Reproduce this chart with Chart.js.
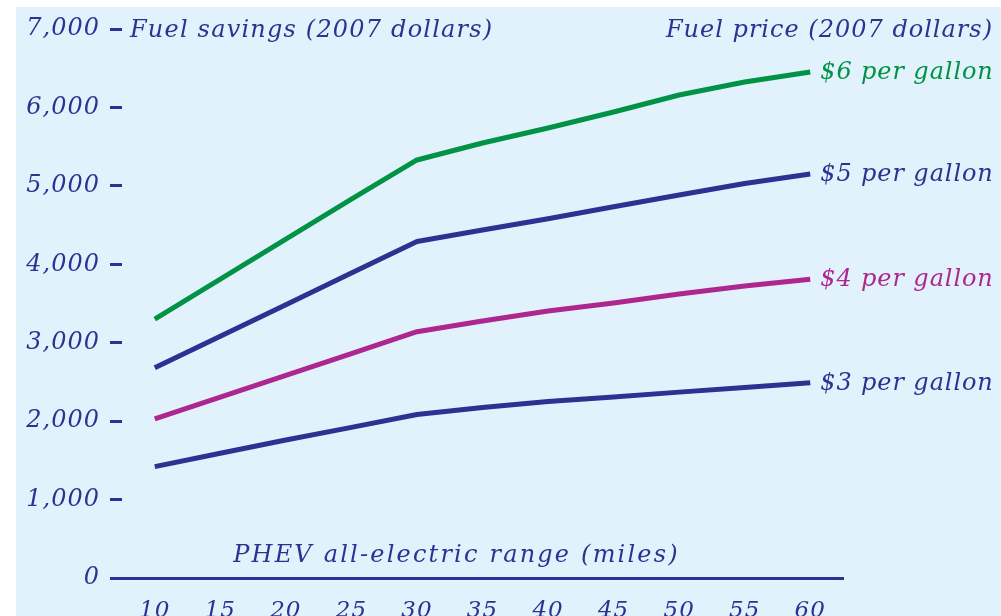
<!DOCTYPE html>
<html>
<head>
<meta charset="utf-8">
<script src="https://cdn.jsdelivr.net/npm/chart.js@4.4.1/dist/chart.umd.min.js"></script>
<style>
  html, body { margin: 0; padding: 0; background: #ffffff; }
  #wrap { position: relative; width: 1001px; height: 616px; }
</style>
</head>
<body>
<div id="wrap"><canvas id="c" width="1001" height="616"></canvas></div>
<script>
// PHEV all-electric range (miles)
const miles = [10, 15, 20, 25, 30, 35, 40, 45, 50, 55, 60];

// Annual fuel savings (2007 dollars) at each fuel price
const savings6 = [3300, 3810, 4320, 4830, 5330, 5546, 5737, 5942, 6158, 6324, 6452];
const savings5 = [2680, 3083, 3485, 3888, 4290, 4437, 4580, 4734, 4883, 5030, 5150];
const savings4 = [2030, 2307, 2584, 2861, 3140, 3277, 3404, 3506, 3621, 3723, 3810];
const savings3 = [1420, 1590, 1760, 1920, 2085, 2175, 2250, 2308, 2370, 2430, 2490];

const priceLabels = ['$6 per gallon', '$5 per gallon', '$4 per gallon', '$3 per gallon'];
const yTicks = [0, 1000, 2000, 3000, 4000, 5000, 6000, 7000];

const NAVY = '#2e3192';
const GREEN = '#009245';
const MAGENTA = '#ae278f';
const PANEL = '#e1f2fd';
const SERIF = '"DejaVu Serif", "Liberation Serif", serif';

const seriesColors = [GREEN, NAVY, MAGENTA, NAVY];
const seriesValues = [savings6, savings5, savings4, savings3];

// light blue panel behind the whole chart; slightly spaced lettering for all text
const panelPlugin = {
  id: 'panel',
  beforeDraw(chart) {
    const ctx = chart.ctx;
    ctx.save();
    ctx.fillStyle = PANEL;
    ctx.fillRect(16, 7, chart.width - 16, chart.height - 7);
    ctx.restore();
    ctx.letterSpacing = '1px';
  }
};

// axis titles and the price label at the end of each line
const textPlugin = {
  id: 'texts',
  afterDatasetsDraw(chart) {
    const ctx = chart.ctx;
    const area = chart.chartArea;
    const y = chart.scales.y;
    const x = chart.scales.x;
    ctx.save();
    ctx.font = 'italic 24px ' + SERIF;
    ctx.textBaseline = 'middle';
    ctx.fillStyle = NAVY;
    const topY = y.getPixelForValue(7000) + 2;
    ctx.letterSpacing = '1.2px';
    ctx.textAlign = 'left';
    ctx.fillText('Fuel savings (2007 dollars)', area.left + 8, topY);
    ctx.letterSpacing = '1px';
    ctx.textAlign = 'right';
    ctx.fillText('Fuel price (2007 dollars)', chart.width - 8, topY);
    ctx.letterSpacing = '2.2px';
    ctx.textAlign = 'center';
    ctx.fillText('PHEV all-electric range (miles)', (x.getPixelForValue(0) + x.getPixelForValue(10)) / 2 - 26, area.bottom - 22);

    ctx.letterSpacing = '0.9px';
    ctx.textAlign = 'left';
    chart.data.datasets.forEach((ds, i) => {
      const meta = chart.getDatasetMeta(i);
      const last = meta.data[meta.data.length - 1];
      ctx.fillStyle = ds.borderColor;
      ctx.fillText(ds.label, last.x + 10, last.y + 1);
    });
    ctx.restore();
  }
};

new Chart(document.getElementById('c'), {
  type: 'line',
  data: {
    labels: miles,
    datasets: seriesValues.map((vals, i) => ({
      label: priceLabels[i],
      data: vals,
      borderColor: seriesColors[i],
      borderWidth: 5,
      borderCapStyle: 'butt',
      borderJoinStyle: 'round',
      pointRadius: 0,
      tension: 0,
      fill: false
    }))
  },
  options: {
    responsive: false,
    animation: false,
    layout: { padding: { left: 0, top: 29, right: 158, bottom: 0 } },
    plugins: {
      legend: { display: false },
      tooltip: { enabled: false }
    },
    scales: {
      x: {
        type: 'category',
        offset: true,
        afterFit(scale) { scale.height = 38; },
        grid: { display: false, drawTicks: false },
        border: { display: true, color: NAVY, width: 3 },
        ticks: {
          color: NAVY,
          font: { family: SERIF, size: 23, style: 'italic' },
          padding: 19,
          maxRotation: 0,
          autoSkip: false
        }
      },
      y: {
        min: 0,
        max: 7000,
        afterFit(scale) { scale.width = 122; },
        afterBuildTicks(scale) { scale.ticks = yTicks.map(v => ({ value: v })); },
        grid: {
          drawOnChartArea: false,
          drawTicks: true,
          tickLength: 12,
          tickWidth: 3,
          tickColor: NAVY,
          color: NAVY,
          lineWidth: 3
        },
        border: { display: false },
        ticks: {
          color: NAVY,
          font: { family: SERIF, size: 24, style: 'italic' },
          padding: 10,
          callback: v => v.toLocaleString('en-US')
        }
      }
    }
  },
  plugins: [panelPlugin, textPlugin]
});
</script>
</body>
</html>
